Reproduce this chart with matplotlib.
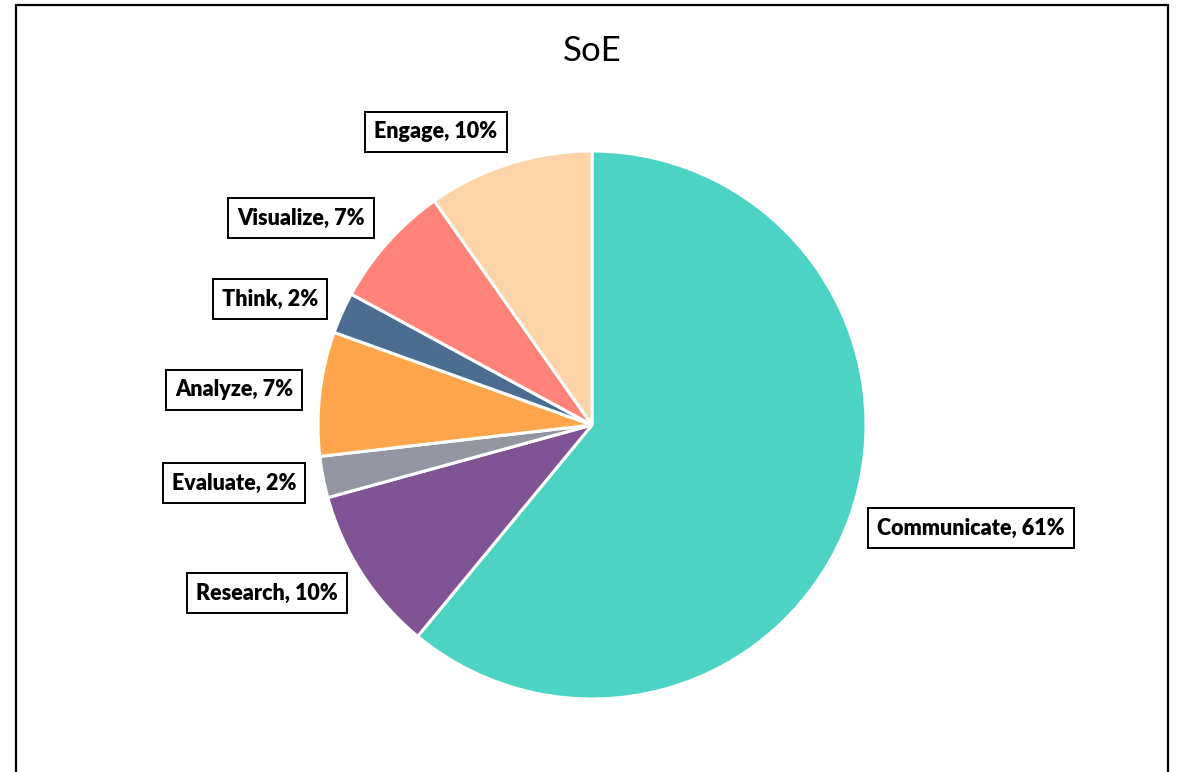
import matplotlib
matplotlib.use("Agg")
import matplotlib.pyplot as plt
from matplotlib.patches import Rectangle

# data
labels = ['Communicate', 'Research', 'Evaluate', 'Analyze', 'Think', 'Visualize', 'Engage']
counts = [25, 4, 1, 3, 1, 3, 4]
colors = ['#4dd3c4', '#7f5394', '#9395a2', '#ffa64d', '#4b6d91', '#ff8379', '#fdd3a8']
# label box centres (pixels, from top-left)
label_pos = [(971, 528), (267, 593), (234, 483), (234, 390), (270, 299), (301, 218), (436, 132)]

W, H = 1180, 772
fig = plt.figure(figsize=(W / 100, H / 100), dpi=100)
ax = fig.add_axes([0, 0, 1, 1])
ax.axis('off')

# chart frame
ax.add_patch(Rectangle((16, -10), 1152, H - 5 + 10, fill=False, edgecolor='black', linewidth=1.6))

total = sum(counts)
ax.pie(counts, colors=colors, startangle=90, counterclock=False,
       center=(592, H - 425), radius=274,
       wedgeprops=dict(edgecolor='white', linewidth=2.2))
ax.set_xlim(0, W)
ax.set_ylim(0, H)
ax.set_aspect('equal')

for lab, c, (x, y) in zip(labels, counts, label_pos):
    ax.text(x, H - y, f'{lab}, {round(100 * c / total)}%', ha='center', va='center',
            fontsize=15.5, fontweight='heavy', family='Lato',
            bbox=dict(boxstyle='square,pad=0.42', facecolor='white', edgecolor='black', linewidth=1.4))

ax.text(592, H - 51, 'SoE', ha='center', va='center', fontsize=25, family='Lato')

fig.savefig('out.png', dpi=100)
